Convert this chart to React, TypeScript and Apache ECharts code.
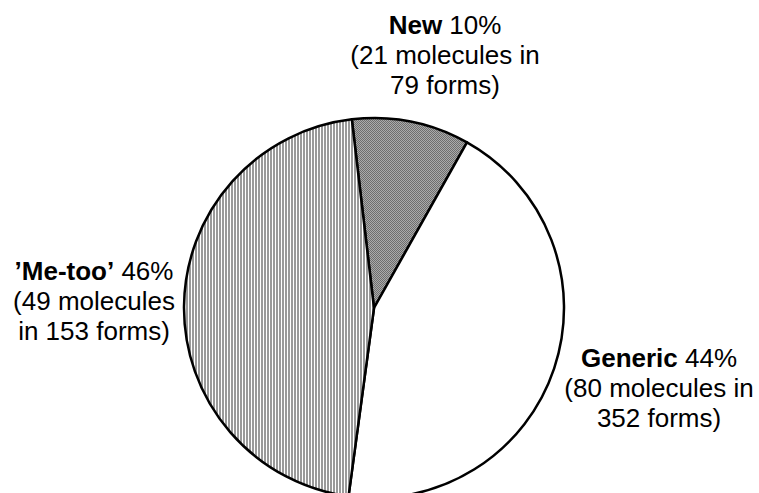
import React, { useEffect, useRef } from 'react';
import * as echarts from 'echarts';

// Share of the total per group, in percent
const categories = ['New', 'Generic', '’Me-too’'];
const shares = [10, 44, 46];
const molecules = [21, 80, 49];
const forms = [79, 352, 153];
// Whether the word "in" stays on the molecules line of the label
const inOnFirstLine = [true, true, false];

// Label block centres (layout only)
const labelAnchors: [number, number][] = [
  [445, 55],
  [659, 388],
  [94, 301],
];

const FONT = '"Liberation Sans", Arial, Helvetica, sans-serif';

function makePattern(w: number, h: number, paint: (ctx: CanvasRenderingContext2D) => void) {
  const c = document.createElement('canvas');
  c.width = w;
  c.height = h;
  const ctx = c.getContext('2d')!;
  paint(ctx);
  return { image: c.toDataURL(), repeat: 'repeat', imageWidth: w, imageHeight: h } as any;
}

export default function App() {
  const ref = useRef<HTMLDivElement>(null);

  useEffect(() => {
    if (!ref.current) return;
    const chart = echarts.init(ref.current, undefined, { renderer: 'svg' });

    // fine dark dither for "New"
    const dither = makePattern(4, 4, (ctx) => {
      for (let y = 0; y < 4; y++) {
        for (let x = 0; x < 4; x++) {
          ctx.fillStyle = (x + y) % 2 === 0 ? '#6e6e6e' : '#ababab';
          ctx.fillRect(x, y, 1, 1);
        }
      }
    });
    // vertical stripes for "Me-too"
    const stripes = makePattern(3, 4, (ctx) => {
      ctx.fillStyle = '#ffffff';
      ctx.fillRect(0, 0, 3, 4);
      ctx.fillStyle = '#9a9a9a';
      ctx.fillRect(0, 0, 2, 4);
    });
    const fills = [dither, '#ffffff', stripes];

    chart.setOption({
      animation: false,
      backgroundColor: '#ffffff',
      series: [
        {
          type: 'pie',
          center: [374, 308],
          radius: 190,
          startAngle: 96.7,
          clockwise: true,
          silent: true,
          avoidLabelOverlap: false,
          itemStyle: { borderColor: '#000000', borderWidth: 2.5 },
          labelLine: { show: false },
          label: {
            show: true,
            position: 'outside',
            fontFamily: FONT,
            fontSize: 26,
            lineHeight: 30,
            color: '#000000',
            formatter: (p: any) => {
              const i = p.dataIndex;
              const head = `{b|${categories[i]}} ${shares[i]}%`;
              const body = inOnFirstLine[i]
                ? `(${molecules[i]} molecules in\n${forms[i]} forms)`
                : `(${molecules[i]} molecules\nin ${forms[i]} forms)`;
              return `${head}\n${body}`;
            },
            rich: {
              b: { fontFamily: FONT, fontSize: 26, lineHeight: 30, fontWeight: 'bold', color: '#000000' },
            },
          },
          labelLayout: (p: any) => ({
            x: labelAnchors[p.dataIndex][0],
            y: labelAnchors[p.dataIndex][1],
            align: 'center',
            verticalAlign: 'middle',
          }),
          data: categories.map((name, i) => ({
            name,
            value: shares[i],
            itemStyle: { color: fills[i] },
          })),
        },
      ],
    });

    return () => chart.dispose();
  }, []);

  return (
    <div
      ref={ref}
      style={{ position: 'fixed', left: 0, top: 0, width: 759, height: 493 }}
    />
  );
}
